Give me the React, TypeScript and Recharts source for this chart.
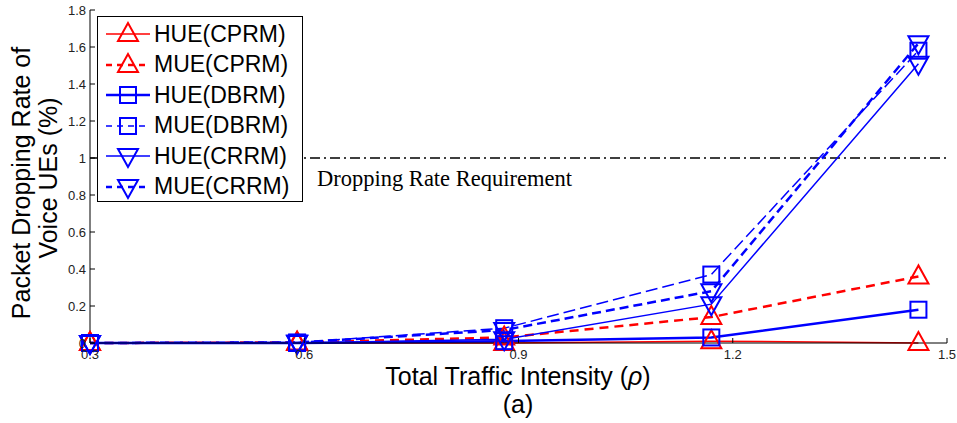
import { LineChart, Line, XAxis, YAxis, ReferenceLine, Legend } from 'recharts';

// traffic intensity (rho) at each simulation point
const intensity = [0.3, 0.59, 0.88, 1.17, 1.46];

// packet dropping rate of voice UEs (%)
const hueCprm = [0, 0, 0, 0.01, 0];
const mueCprm = [0, 0.003, 0.03, 0.14, 0.36];
const hueDbrm = [0, 0, 0.01, 0.03, 0.18];
const mueDbrm = [0, 0.003, 0.08, 0.37, 1.58];
const hueCrrm = [0, 0, 0.02, 0.21, 1.51];
const mueCrrm = [0, 0.003, 0.07, 0.28, 1.62];

const xTicks = [0.3, 0.6, 0.9, 1.2, 1.5];
const yTicks = [0, 0.2, 0.4, 0.6, 0.8, 1, 1.2, 1.4, 1.6, 1.8];
const requirement = 1;

const RED = '#ff0000';
const BLUE = '#0000ff';

type MarkerKind = 'up' | 'square' | 'down';

const series = [
  { key: 'hueCprm', name: 'HUE(CPRM)', values: hueCprm, color: RED, dash: undefined, width: 1.5, marker: 'up' as MarkerKind },
  { key: 'mueCprm', name: 'MUE(CPRM)', values: mueCprm, color: RED, dash: '9 6', width: 2.5, marker: 'up' as MarkerKind },
  { key: 'hueDbrm', name: 'HUE(DBRM)', values: hueDbrm, color: BLUE, dash: undefined, width: 2.5, marker: 'square' as MarkerKind },
  { key: 'mueDbrm', name: 'MUE(DBRM)', values: mueDbrm, color: BLUE, dash: '12 5', width: 1.5, marker: 'square' as MarkerKind },
  { key: 'hueCrrm', name: 'HUE(CRRM)', values: hueCrrm, color: BLUE, dash: undefined, width: 1.5, marker: 'down' as MarkerKind },
  { key: 'mueCrrm', name: 'MUE(CRRM)', values: mueCrrm, color: BLUE, dash: '9 5', width: 2.5, marker: 'down' as MarkerKind },
];

const data = intensity.map((rho, i) => {
  const row: Record<string, number> = { rho };
  series.forEach((s) => {
    row[s.key] = s.values[i];
  });
  return row;
});

const SANS = '"Liberation Sans", Arial, sans-serif';
const SERIF = '"Liberation Serif", "Times New Roman", serif';

const Marker = ({ cx, cy, kind, color }: { cx: number; cy: number; kind: MarkerKind; color: string }) => {
  if (kind === 'square') {
    return <rect x={cx - 8} y={cy - 8} width={16} height={16} fill="none" stroke={color} strokeWidth={2} />;
  }
  if (kind === 'up') {
    return (
      <polygon
        points={`${cx},${cy - 11} ${cx - 10},${cy + 7} ${cx + 10},${cy + 7}`}
        fill="none"
        stroke={color}
        strokeWidth={2}
      />
    );
  }
  return (
    <polygon
      points={`${cx},${cy + 11} ${cx - 10},${cy - 7} ${cx + 10},${cy - 7}`}
      fill="none"
      stroke={color}
      strokeWidth={2}
    />
  );
};

// MATLAB-style ticks: short marks pointing into the plot box
const BottomTick = (props: any) => {
  const { x, y, payload } = props;
  return (
    <g>
      <line x1={x} y1={y} x2={x} y2={y - 5} stroke="#000" />
      <text x={x} y={y + 16} textAnchor="middle" fontFamily={SANS} fontSize={13} fill="#222">
        {payload.value}
      </text>
    </g>
  );
};

const TopTick = (props: any) => {
  const { x, y } = props;
  return <line x1={x} y1={y} x2={x} y2={y + 5} stroke="#000" />;
};

const LeftTick = (props: any) => {
  const { x, y, payload } = props;
  return (
    <g>
      <line x1={x} y1={y} x2={x + 5} y2={y} stroke="#000" />
      <text x={x - 4} y={y + 5} textAnchor="end" fontFamily={SANS} fontSize={13} fill="#222">
        {payload.value}
      </text>
    </g>
  );
};

const RightTick = (props: any) => {
  const { x, y } = props;
  return <line x1={x} y1={y} x2={x - 5} y2={y} stroke="#000" />;
};

const LegendBox = () => (
  <div
    style={{
      border: '1px solid #000',
      background: '#fff',
      width: 206,
      height: 186,
      boxSizing: 'border-box',
      paddingTop: 2,
    }}
  >
    {series.map((s) => (
      <div key={s.key} style={{ display: 'flex', alignItems: 'center', height: 30.5 }}>
        <svg width={56} height={30} style={{ flex: 'none' }}>
          <line
            x1={8}
            y1={15}
            x2={52}
            y2={15}
            stroke={s.color}
            strokeWidth={s.width}
            strokeDasharray={s.dash ? '6 5' : undefined}
          />
          <Marker cx={30} cy={15} kind={s.marker} color={s.color} />
        </svg>
        <span style={{ fontFamily: SANS, fontSize: 23, color: '#000', whiteSpace: 'nowrap' }}>{s.name}</span>
      </div>
    ))}
  </div>
);

export default function App() {
  return (
    <div style={{ position: 'absolute', left: 0, top: 0, width: 957, height: 423, background: '#fff' }}>
      <LineChart width={957} height={423} data={data} margin={{ top: 10, right: 10, bottom: 0, left: 0 }}>
        <XAxis
          dataKey="rho"
          type="number"
          domain={[0.3, 1.5]}
          ticks={xTicks}
          height={80}
          axisLine={{ stroke: '#000' }}
          tickLine={false}
          tickSize={0}
          tickMargin={0}
          tick={<BottomTick />}
          interval={0}
          label={{
            content: () => (
              <g>
                <text x={518} y={385} textAnchor="middle" fontFamily={SANS} fontSize={25} fill="#000">
                  Total Traffic Intensity (<tspan fontStyle="italic">ρ</tspan>)
                </text>
                <text x={518} y={413} textAnchor="middle" fontFamily={SANS} fontSize={25} fill="#000">
                  (a)
                </text>
              </g>
            ),
          }}
        />
        <XAxis
          xAxisId="top"
          dataKey="rho"
          type="number"
          orientation="top"
          domain={[0.3, 1.5]}
          ticks={xTicks}
          height={0}
          axisLine={{ stroke: '#000' }}
          tickLine={false}
          tickSize={0}
          tickMargin={0}
          tick={<TopTick />}
          interval={0}
        />
        <YAxis
          domain={[0, 1.8]}
          ticks={yTicks}
          width={90}
          axisLine={{ stroke: '#000' }}
          tickLine={false}
          tickSize={0}
          tickMargin={0}
          tick={<LeftTick />}
          interval={0}
          label={{
            content: () => (
              <g fontFamily={SANS} fontSize={25} fill="#000">
                <text x={30} y={183} textAnchor="middle" transform="rotate(-90 30 183)">
                  Packet Dropping Rate of
                </text>
                <text x={57} y={178} textAnchor="middle" transform="rotate(-90 57 178)">
                  Voice UEs (%)
                </text>
              </g>
            ),
          }}
        />
        <YAxis
          yAxisId="right"
          orientation="right"
          domain={[0, 1.8]}
          ticks={yTicks}
          width={0}
          axisLine={{ stroke: '#000' }}
          tickLine={false}
          tickSize={0}
          tickMargin={0}
          tick={<RightTick />}
          interval={0}
        />
        <ReferenceLine
          y={requirement}
          stroke="#000"
          strokeWidth={1.5}
          strokeDasharray="10 4 2 4"
          label={{
            content: (p: any) => (
              <text
                x={p.viewBox.x + 227}
                y={p.viewBox.y + 28}
                fontFamily={SERIF}
                fontSize={22.5}
                fill="#000"
              >
                Dropping Rate Requirement
              </text>
            ),
          }}
        />
        {series.map((s) => (
          <Line
            key={s.key}
            dataKey={s.key}
            name={s.name}
            type="linear"
            stroke={s.color}
            strokeWidth={s.width}
            strokeDasharray={s.dash}
            isAnimationActive={false}
            dot={(p: any) => <Marker key={`${s.key}-${p.index}`} cx={p.cx} cy={p.cy} kind={s.marker} color={s.color} />}
            activeDot={false}
          />
        ))}
        <Legend
          layout="vertical"
          align="center"
          verticalAlign="middle"
          content={() => <LegendBox />}
          wrapperStyle={{ position: 'absolute', left: 97, top: 16, width: 206, height: 186 }}
        />
      </LineChart>
    </div>
  );
}
